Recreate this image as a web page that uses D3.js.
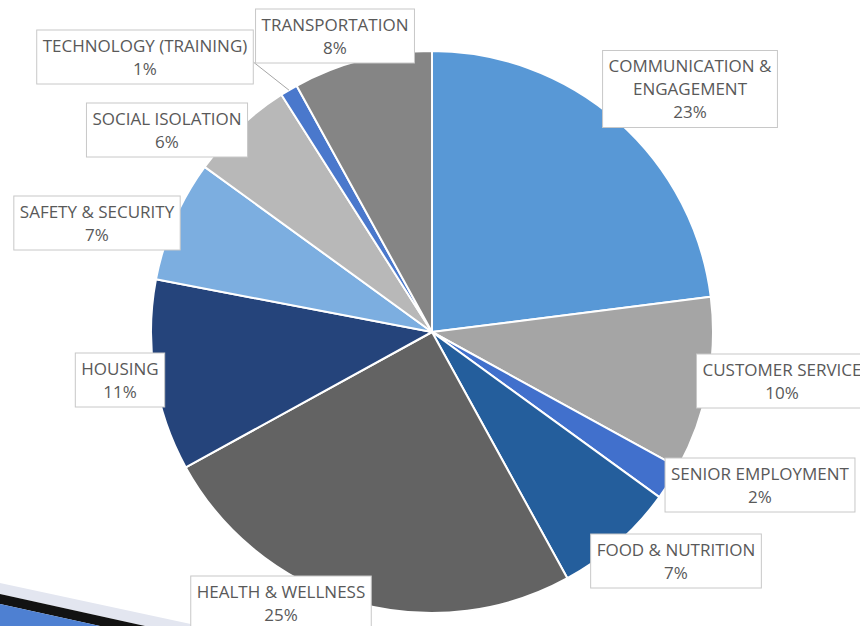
<!DOCTYPE html>
<html>
<head>
<meta charset="utf-8">
<script src="https://cdn.jsdelivr.net/npm/d3@7"></script>
<style>
  html, body { margin: 0; padding: 0; background: #ffffff; overflow: hidden; }
  svg { display: block; }
</style>
</head>
<body>
<svg id="chart" width="860" height="626"></svg>
<script>
// Program areas and their share of responses (percent), clockwise from 12 o'clock
const categories = [
  "COMMUNICATION &\nENGAGEMENT",
  "CUSTOMER SERVICE",
  "SENIOR EMPLOYMENT",
  "FOOD & NUTRITION",
  "HEALTH & WELLNESS",
  "HOUSING",
  "SAFETY & SECURITY",
  "SOCIAL ISOLATION",
  "TECHNOLOGY (TRAINING)",
  "TRANSPORTATION"
];
const values = [23, 10, 2, 7, 25, 11, 7, 6, 1, 8];

// Slice fills
const colors = [
  "#5898d6", "#a5a5a5", "#4170cc", "#245e9c", "#636363",
  "#25447b", "#7caee0", "#b8b8b8", "#4a78cc", "#858585"
];

// Label box centres and which label gets a leader line
const labelPos = [
  [690, 89], [782, 381], [760, 485], [676, 561], [281, 603],
  [120, 380], [97, 223], [167, 130], [145, 57], [335, 36]
];
const leaderFor = [8];

const W = 860, H = 626;
const cx = 432, cy = 332, R = 281;
const lineH = 23, padX = 6, padY = 4;

const svg = d3.select("#chart");

// Corner ribbon of the slide frame
const deco = svg.append("g").attr("class", "frame");
deco.append("path").attr("d", "M0,583 L0,594 L145,626 L200,626 Z").attr("fill", "#e3e6f0");
deco.append("path").attr("d", "M0,594 L0,604 L100,626 L145,626 Z").attr("fill", "#121212");
deco.append("path").attr("d", "M0,604 L0,626 L100,626 Z").attr("fill", "#4e80d2");

const pie = d3.pie().sort(null).value(d => d);
const arcs = pie(values);
const arc = d3.arc().innerRadius(0).outerRadius(R);

const g = svg.append("g").attr("transform", `translate(${cx},${cy})`);
g.selectAll("path.slice")
  .data(arcs)
  .join("path")
  .attr("class", "slice")
  .attr("d", arc)
  .attr("fill", (d, i) => colors[i])
  .attr("stroke", "#ffffff")
  .attr("stroke-width", 2)
  .attr("stroke-linejoin", "round");

// Leader lines go under the label boxes
const leaders = svg.append("g");
const labels = svg.append("g");

arcs.forEach((d, i) => {
  const lines = categories[i].split("\n").concat([values[i] + "%"]);
  const [lx, ly] = labelPos[i];
  const lg = labels.append("g");
  const box = lg.append("rect");
  const top = ly - (lines.length * lineH) / 2;
  const texts = lines.map((t, k) =>
    lg.append("text")
      .attr("x", lx)
      .attr("y", top + lineH * k + lineH / 2)
      .attr("dy", "0.36em")
      .attr("text-anchor", "middle")
      .attr("font-family", "'Open Sans', sans-serif")
      .attr("font-size", 17)
      .attr("fill", "#595959")
      .text(t)
  );
  const w = d3.max(texts, t => t.node().getComputedTextLength());
  const bw = w + padX * 2, bh = lines.length * lineH + padY * 2;
  box.attr("x", lx - bw / 2).attr("y", ly - bh / 2)
    .attr("width", bw).attr("height", bh)
    .attr("fill", "#ffffff")
    .attr("stroke", "#c8c8c8")
    .attr("stroke-width", 1);

  if (leaderFor.includes(i)) {
    const a = (d.startAngle + d.endAngle) / 2;
    const ex = cx + R * Math.sin(a), ey = cy - R * Math.cos(a);
    leaders.append("line")
      .attr("x1", lx + bw / 2).attr("y1", ly + 5)
      .attr("x2", ex).attr("y2", ey)
      .attr("stroke", "#a6a6a6")
      .attr("stroke-width", 1);
  }
});
</script>
</body>
</html>
